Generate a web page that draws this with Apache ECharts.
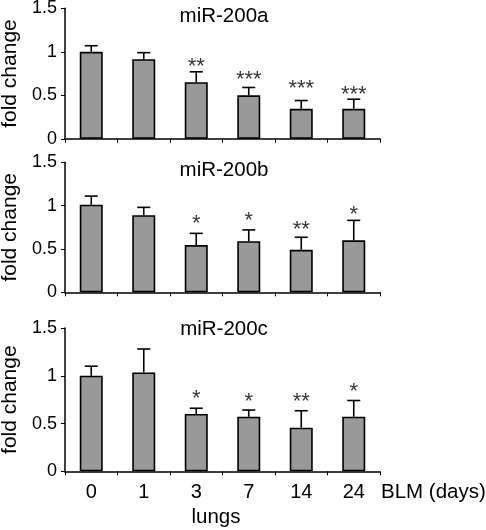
<!DOCTYPE html>
<html>
<head>
<meta charset="utf-8">
<script src="https://cdn.jsdelivr.net/npm/echarts@6/dist/echarts.min.js"></script>
<style>
html,body{margin:0;padding:0;background:#fff;}
#chart{width:486px;height:530px;}
</style>
</head>
<body>
<div id="chart"></div>
<script>
// ---- data ----
const categories = ['0', '1', '3', '7', '14', '24'];
const panelTitles = ['miR-200a', 'miR-200b', 'miR-200c'];
const yTicks = [0, 0.5, 1, 1.5];

const meanA = [1.00, 0.915, 0.65, 0.50, 0.345, 0.345];
const errA  = [0.07, 0.075, 0.12, 0.09, 0.095, 0.11];
const starsA = ['', '', '**', '***', '***', '***'];
const starYA = [null, null, 0.89, 0.745, 0.64, 0.575];

const meanB = [1.01, 0.89, 0.545, 0.59, 0.49, 0.60];
const errB  = [0.10, 0.09, 0.135, 0.13, 0.145, 0.23];
const starsB = ['', '', '*', '*', '**', '*'];
const starYB = [null, null, 0.86, 0.89, 0.79, 0.965];

const meanC = [1.00, 1.035, 0.60, 0.571, 0.456, 0.571];
const errC  = [0.10, 0.245, 0.06, 0.07, 0.178, 0.17];
const starsC = ['', '', '*', '*', '**', '*'];
const starYC = [null, null, 0.816, 0.785, 0.785, 0.894];

const xAxisTitle = 'BLM (days)';
const groupLabel = 'lungs';
const yAxisTitle = 'fold change';

// ---- chart ----
const FONT = '"Liberation Sans", Arial, Helvetica, sans-serif';
const chart = echarts.init(document.getElementById('chart'), null, {renderer: 'canvas'});

const panels = [
  {mean: meanA, err: errA, stars: starsA, starY: starYA, top: 8.3, height: 130.5},
  {mean: meanB, err: errB, stars: starsB, starY: starYB, top: 162.3, height: 130},
  {mean: meanC, err: errC, stars: starsC, starY: starYC, top: 328, height: 143.3}
];

const grids = [], xAxes = [], yAxes = [], series = [];
panels.forEach((p, k) => {
  grids.push({left: 65, width: 315, top: p.top, height: p.height, containLabel: false, outerBoundsMode: 'none'});
  xAxes.push({
    type: 'category', gridIndex: k, data: categories, boundaryGap: true,
    axisLine: {show: true, lineStyle: {color: '#000', width: 1.5}},
    axisTick: {show: true, length: 4, inside: false, lineStyle: {color: '#000', width: 1}},
    axisLabel: {show: k === 2, color: '#000', fontSize: 20, fontFamily: FONT, margin: 11},
    splitLine: {show: false}
  });
  yAxes.push({
    type: 'value', gridIndex: k, min: yTicks[0], max: yTicks[yTicks.length - 1], interval: 0.5,
    axisLine: {show: true, lineStyle: {color: '#000', width: 1.5}},
    axisTick: {show: true, length: 4, lineStyle: {color: '#000', width: 1}},
    axisLabel: {color: '#000', fontSize: 18, fontFamily: FONT, margin: 8},
    splitLine: {show: false},
    name: yAxisTitle, nameLocation: 'middle', nameRotate: 90, nameGap: 44,
    nameTextStyle: {color: '#000', fontSize: 21, fontFamily: FONT}
  });
  series.push({
    type: 'bar', xAxisIndex: k, yAxisIndex: k, data: p.mean, barWidth: 23,
    itemStyle: {color: '#999999', borderColor: '#000', borderWidth: 1.6},
    z: 2, silent: true
  });
  series.push({
    type: 'custom', xAxisIndex: k, yAxisIndex: k, z: 3, silent: true,
    data: p.mean.map((m, i) => [i, m, p.err[i]]),
    renderItem: function (params, api) {
      const x = api.value(0), m = api.value(1), e = api.value(2);
      const p0 = api.coord([x, m]);
      const p1 = api.coord([x, m + e]);
      const half = 6.5;
      return {
        type: 'group',
        children: [
          {type: 'line', shape: {x1: p0[0], y1: p0[1], x2: p1[0], y2: p1[1]},
           style: {stroke: '#000', lineWidth: 1.6}},
          {type: 'line', shape: {x1: p1[0] - half, y1: p1[1], x2: p1[0] + half, y2: p1[1]},
           style: {stroke: '#000', lineWidth: 1.6}}
        ]
      };
    }
  });
  series.push({
    type: 'scatter', xAxisIndex: k, yAxisIndex: k, symbolSize: 0, silent: true, z: 4,
    data: p.starY.map((v, i) => v == null ? null : {value: [i, v], star: p.stars[i]}).filter(d => d),
    label: {
      show: true, position: 'inside', offset: [0, 6],
      formatter: function (d) { return d.data.star; },
      color: '#000', fontSize: 22, fontFamily: FONT
    }
  });
});

const titleYs = [16, 170.5, 329];
const graphic = panelTitles.map((t, k) => ({
  type: 'text', x: 224, y: titleYs[k],
  style: {text: t, fill: '#000', font: '20.5px ' + FONT, textAlign: 'center', textVerticalAlign: 'middle'}
}));
graphic.push({
  type: 'text', x: 381, y: 492,
  style: {text: xAxisTitle, fill: '#000', font: '20.5px ' + FONT, textAlign: 'left', textVerticalAlign: 'middle'}
});
graphic.push({
  type: 'text', x: 216, y: 517,
  style: {text: groupLabel, fill: '#000', font: '20.5px ' + FONT, textAlign: 'center', textVerticalAlign: 'middle'}
});

chart.setOption({
  animation: false,
  backgroundColor: '#fff',
  grid: grids, xAxis: xAxes, yAxis: yAxes, series: series, graphic: graphic
});
</script>
</body>
</html>
